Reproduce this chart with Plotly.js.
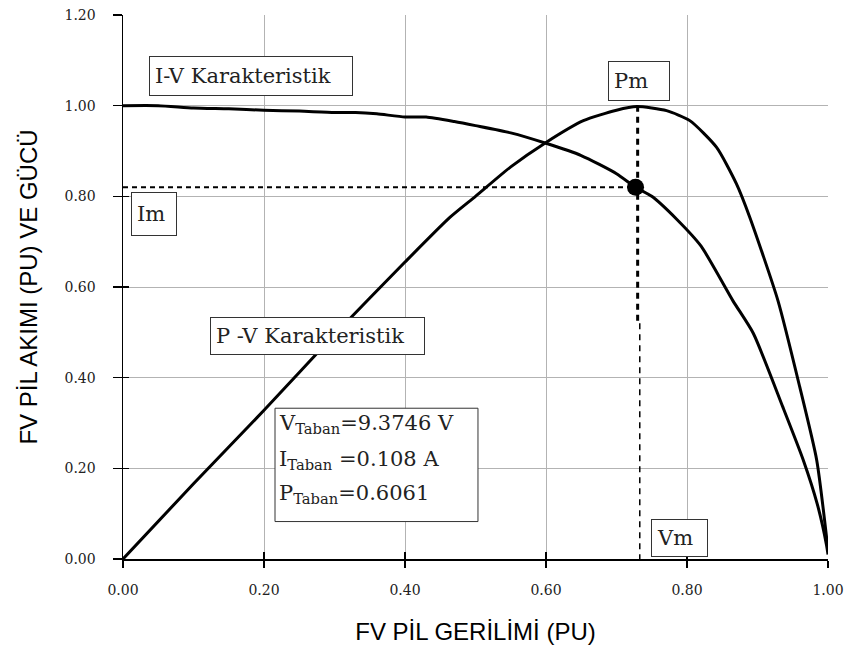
<!DOCTYPE html>
<html>
<head>
<meta charset="utf-8">
<script src="https://cdn.plot.ly/plotly-3.0.1.min.js"></script>
<style>html,body{margin:0;padding:0;background:#fff;}#chart{width:852px;height:654px;}</style>
</head>
<body>
<div id="chart"></div>
<script>
// I-V characteristic (per unit)
const ivV = [0.00, 0.05, 0.10, 0.15, 0.20, 0.25, 0.30, 0.33, 0.36, 0.40, 0.43, 0.47, 0.50, 0.55, 0.60, 0.65, 0.70, 0.727, 0.75, 0.785, 0.82, 0.865, 0.894, 0.936, 0.965, 0.985, 0.998, 1.00];
const ivI = [1.00, 1.00, 0.995, 0.993, 0.99, 0.988, 0.985, 0.985, 0.982, 0.975, 0.975, 0.965, 0.956, 0.94, 0.917, 0.89, 0.85, 0.82, 0.80, 0.75, 0.69, 0.57, 0.498, 0.335, 0.218, 0.12, 0.03, 0.01];
// P-V characteristic (per unit)
const pvV = [0.00, 0.10, 0.20, 0.30, 0.40, 0.464, 0.50, 0.55, 0.60, 0.653, 0.70, 0.729, 0.771, 0.804, 0.842, 0.870, 0.889, 0.929, 0.960, 0.984, 1.00];
const pvP = [0.00, 0.166, 0.328, 0.495, 0.655, 0.754, 0.80, 0.865, 0.919, 0.967, 0.99, 0.998, 0.989, 0.967, 0.908, 0.828, 0.754, 0.57, 0.379, 0.218, 0.02];
// maximum power point
const Vm = 0.727, Im = 0.82, Pm = 1.00;
const vmSplit = 0.52;
const xTicks = [0, 0.2, 0.4, 0.6, 0.8, 1.0];
const yTicks = [0, 0.2, 0.4, 0.6, 0.8, 1.0, 1.2];
const infoLines = ['V<sub>Taban</sub>=9.3746 V', 'I<sub>Taban</sub> =0.108 A', 'P<sub>Taban</sub>=0.6061'];

const tickFont = {family: 'DejaVu Serif', size: 14, color: '#222'};
const boxFont = {family: 'DejaVu Serif', size: 21, color: '#222'};
const titleFont = {family: 'Liberation Sans', size: 24, color: '#000'};

const traces = [
  {x: ivV, y: ivI, mode: 'lines', line: {color: '#000', width: 3, shape: 'spline', smoothing: 0.6}, hoverinfo: 'skip'},
  {x: pvV, y: pvP, mode: 'lines', line: {color: '#000', width: 3, shape: 'spline', smoothing: 0.6}, hoverinfo: 'skip'},
  {x: [0, Vm], y: [Im, Im], mode: 'lines', line: {color: '#000', width: 2, dash: '5px,4px'}, hoverinfo: 'skip'},
  {x: [Vm + 0.003, Vm + 0.003], y: [Pm, vmSplit], mode: 'lines', line: {color: '#000', width: 3, dash: '6px,5px'}, hoverinfo: 'skip'},
  {x: [Vm + 0.006, Vm + 0.006], y: [vmSplit, 0], mode: 'lines', line: {color: '#000', width: 1.5, dash: '6px,5px'}, hoverinfo: 'skip'},
  {x: [Vm], y: [Im], mode: 'markers', marker: {color: '#000', size: 17}, hoverinfo: 'skip'},
  {x: [0], y: [0], xaxis: 'x2', yaxis: 'y2', mode: 'markers', marker: {opacity: 0}, hoverinfo: 'skip'}
];

const PAD = 5;
function box(text, x, y, w, h) {
  return {
    text: text, xref: 'x', yref: 'y', x: x, y: y, xanchor: 'left', yanchor: 'top',
    showarrow: false, font: boxFont, align: 'left', valign: 'middle',
    width: w - 2 * PAD - 2, height: h - 2 * PAD - 2,
    bordercolor: '#333', borderwidth: 1, borderpad: PAD, bgcolor: '#fff'
  };
}
function label(text, x, y) {
  return {text: text, xref: 'x', yref: 'y', x: x, y: y, xanchor: 'left', yanchor: 'middle',
    showarrow: false, font: boxFont, align: 'left'};
}

const layout = {
  width: 852, height: 654,
  margin: {l: 123, r: 24, t: 15, b: 95},
  paper_bgcolor: '#fff', plot_bgcolor: '#fff',
  showlegend: false,
  xaxis: {
    range: [0, 1], tickvals: xTicks, tickformat: '.2f',
    showgrid: true, gridcolor: '#b3b3b3', gridwidth: 1,
    showline: true, linecolor: '#000', linewidth: 1.5, zeroline: false,
    ticks: 'outside', ticklen: 7, tickwidth: 1.5, tickcolor: '#000',
    tickfont: tickFont, ticklabelstandoff: 11,
    title: {text: 'FV PİL GERİLİMİ (PU)', font: titleFont, standoff: 26}
  },
  yaxis: {
    range: [0, 1.2], tickvals: yTicks, tickformat: '.2f',
    showgrid: true, gridcolor: '#b3b3b3', gridwidth: 1,
    showline: true, linecolor: '#000', linewidth: 1.5, zeroline: false,
    ticks: 'outside', ticklen: 9, tickwidth: 1.5, tickcolor: '#000',
    tickfont: tickFont, ticklabelstandoff: 14,
    title: {text: 'FV PİL AKIMI (PU) VE GÜCÜ', font: titleFont, standoff: 20}
  },
  xaxis2: {overlaying: 'x', range: [0, 1], tickvals: xTicks, showticklabels: false, showgrid: false, showline: false, zeroline: false, ticks: 'inside', ticklen: 7, tickwidth: 1.5, tickcolor: '#000'},
  yaxis2: {overlaying: 'y', range: [0, 1.2], tickvals: yTicks, showticklabels: false, showgrid: false, showline: false, zeroline: false, ticks: 'inside', ticklen: 6, tickwidth: 1.5, tickcolor: '#000'},
  shapes: [
    {type: 'rect', xref: 'x', yref: 'y', x0: 0.2156, x1: 0.5035, y0: 0.0826, y1: 0.3326,
     line: {color: '#333', width: 1}, fillcolor: '#fff', layer: 'above'}
  ],
  annotations: [
    box('I-V Karakteristik', 0.0369, 1.110, 204, 40),
    box('Pm', 0.688, 1.099, 62, 40),
    box('Im', 0.0113, 0.8106, 46, 44),
    box('P -V Karakteristik', 0.1234, 0.533, 215, 38),
    label(infoLines[0], 0.219, 0.297),
    label(infoLines[1], 0.219, 0.219),
    label(infoLines[2], 0.219, 0.143),
    box('Vm', 0.749, 0.0881, 57, 38)
  ]
};

Plotly.newPlot('chart', traces, layout, {displayModeBar: false, staticPlot: true});
</script>
</body>
</html>
